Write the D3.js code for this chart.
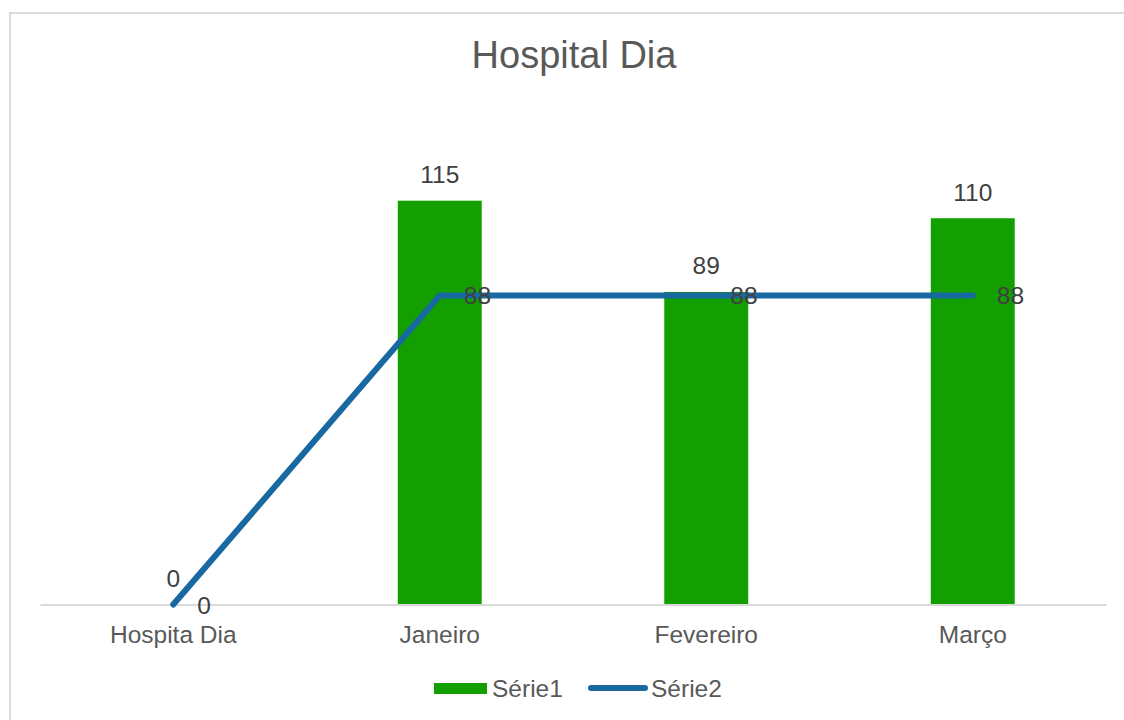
<!DOCTYPE html>
<html>
<head>
<meta charset="utf-8">
<script src="https://cdn.jsdelivr.net/npm/d3@7"></script>
<style>
  html, body { margin: 0; padding: 0; background: #ffffff; }
  svg { display: block; font-family: "Liberation Sans", Arial, sans-serif; }
</style>
</head>
<body>
<svg id="chart" width="1124" height="720"></svg>
<script>
const title = "Hospital Dia";
const categories = ["Hospita Dia", "Janeiro", "Fevereiro", "Março"];
const serie1 = [0, 115, 89, 110];
const serie2 = [0, 88, 88, 88];
const seriesNames = ["Série1", "Série2"];

const W = 1124, H = 720;
const svg = d3.select("#chart");

// chart border
svg.append("rect")
  .attr("x", 10).attr("y", 13)
  .attr("width", 1200).attr("height", 800)
  .attr("fill", "#ffffff")
  .attr("stroke", "#d9d9d9").attr("stroke-width", 2);

// title
svg.append("text")
  .attr("x", 574).attr("y", 68)
  .attr("text-anchor", "middle")
  .attr("font-size", 38)
  .attr("fill", "#595959")
  .text(title);

const x = d3.scaleBand().domain(categories).range([40, 1106]).padding(0);
const y = d3.scaleLinear().domain([0, 140]).range([604.5, 112.9]);
const barW = x.bandwidth() * 0.315;
const cx = d => x(d) + x.bandwidth() / 2;

// bars
svg.append("g").selectAll("rect")
  .data(categories.map((c, i) => ({c, v: serie1[i]})))
  .join("rect")
  .attr("x", d => cx(d.c) - barW / 2)
  .attr("y", d => y(d.v))
  .attr("width", barW)
  .attr("height", d => y(0) - y(d.v))
  .attr("fill", "#139f00");

// x axis
const axis = svg.append("g")
  .attr("transform", `translate(0,${y(0)})`)
  .call(d3.axisBottom(x).tickSize(0).tickSizeOuter(0));
axis.select(".domain").attr("stroke", "#d9d9d9").attr("stroke-width", 2);
axis.selectAll("text")
  .attr("y", 38).attr("dy", 0)
  .attr("font-size", 24.5)
  .attr("font-family", "Liberation Sans, Arial, sans-serif")
  .attr("fill", "#595959");

// line
const line = d3.line()
  .x((d, i) => cx(categories[i]))
  .y(d => y(d));
svg.append("path")
  .datum(serie2)
  .attr("d", line)
  .attr("fill", "none")
  .attr("stroke", "#1868a2")
  .attr("stroke-width", 6)
  .attr("stroke-linecap", "round")
  .attr("stroke-linejoin", "round");

// bar labels
svg.append("g").selectAll("text")
  .data(categories.map((c, i) => ({c, v: serie1[i]})))
  .join("text")
  .attr("x", d => cx(d.c))
  .attr("y", d => y(d.v) - 17.5)
  .attr("text-anchor", "middle")
  .attr("font-size", 24.5)
  .attr("fill", "#404040")
  .text(d => d.v);

// line labels (right)
svg.append("g").selectAll("text")
  .data(categories.map((c, i) => ({c, v: serie2[i]})))
  .join("text")
  .attr("x", d => cx(d.c) + 24)
  .attr("y", d => y(d.v) + 9)
  .attr("text-anchor", "start")
  .attr("font-size", 24.5)
  .attr("fill", "#404040")
  .text(d => d.v);

// legend
const lg = svg.append("g");
lg.append("rect")
  .attr("x", 434).attr("y", 683)
  .attr("width", 53).attr("height", 11)
  .attr("fill", "#139f00");
lg.append("text")
  .attr("x", 492).attr("y", 697)
  .attr("font-size", 24.5).attr("fill", "#595959")
  .text(seriesNames[0]);
lg.append("line")
  .attr("x1", 591).attr("x2", 645)
  .attr("y1", 688).attr("y2", 688)
  .attr("stroke", "#1868a2").attr("stroke-width", 6)
  .attr("stroke-linecap", "round");
lg.append("text")
  .attr("x", 651).attr("y", 697)
  .attr("font-size", 24.5).attr("fill", "#595959")
  .text(seriesNames[1]);
</script>
</body>
</html>
